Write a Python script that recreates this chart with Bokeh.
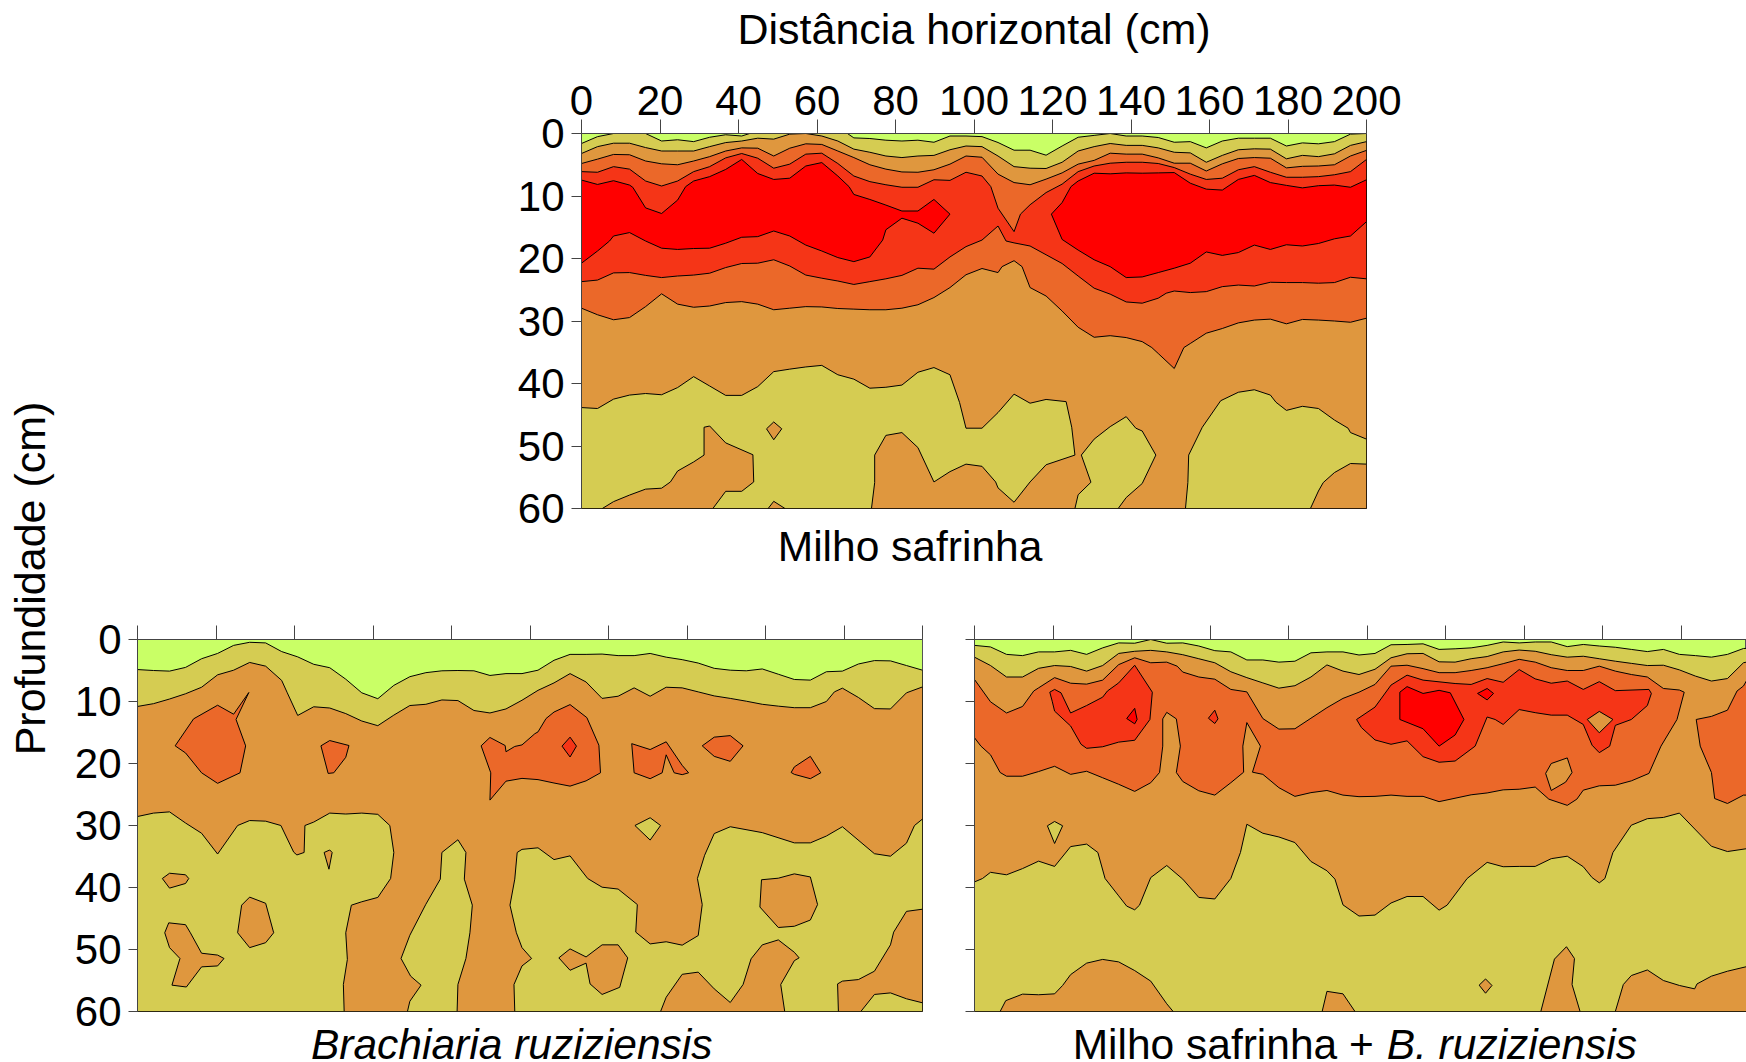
from bokeh.embed import file_html
from bokeh.resources import INLINE
from bokeh.plotting import figure
from bokeh.layouts import row, column
from bokeh.models import Range1d, FixedTicker, Label, Spacer

# Contours were digitised on the survey grid: 50 columns across 200 cm.
# Every point is (grid column, depth in cm); plain lists hold one depth per column.
COL_CM = 200 / 49
LIME, OLIVE, TAN, ORANGE, REDOR, RED = "#C9FF66", "#D5CC52", "#DF973E", "#EB6829", "#F53517", "#FF0000"
x_ticks = [0, 20, 40, 60, 80, 100, 120, 140, 160, 180, 200]
y_ticks = [0, 10, 20, 30, 40, 50, 60]

# ---------- Milho safrinha ----------
top_l1 = [1.6,.5,0,0,0,1.2,1.0,1.3,.6,.2,.4,0,0,0,0,0,0,.7,.8,1.07,1.2,1.07,1.4,.4,.4,.5,1.44,2.67,2.67,3.47,2.0,.6,.3,0,.4,.4,.64,1.4,1.3,2.3,1.2,.75,.75,.75,2,1.5,1.65,1.3,.1,0]
top_l1_x = [(10.5,0),(16.6,0)]
top_l2 = [3.2,2.1,1.55,1.55,2.25,2.8,2.8,2.8,2.1,1.45,1.2,.75,.9,.1,0,.4,1.2,2.5,3.0,3.6,3.85,3.6,3.5,2.6,2.0,2.1,3.6,5.3,5.55,5.6,4.6,2.8,2.1,1.6,1.9,1.9,2.3,3,3.1,4.6,3.5,2.6,2.45,2.5,4.05,3.5,3.7,3.25,1.9,1.3]
top_l3 = [4.8,4.1,3.35,3.4,4.4,4.85,5.0,4.4,3.7,2.8,2.3,2.35,3.6,2.35,1.65,1.75,2.8,3.85,5,5.7,6.15,6.2,5.8,4.9,3.6,3.8,6.5,7.85,8.2,7.3,6.3,4.9,4.3,3.15,3.3,3.3,3.9,4.75,4.75,6,4.85,4,3.85,3.95,5.5,5.25,5.2,5,3.6,2.7]
top_l4 = [6.1,6.2,5.3,5.7,7.6,8.4,7.6,6.1,5.3,3.9,3.2,3.95,5.55,4.9,3.3,3.15,4.8,6.8,7.7,8.2,8.6,8.6,7.4,7.5,6.2,6.8,11.95,15.7,11.4,9.45,8.1,6.1,5.2,4.75,4.6,4.6,4.8,5.45,6.5,7.35,7.15,5.8,5.3,6.2,7,7,6.9,6.6,6.1,4.15]
top_l4_x = [(25.55,8.5),(27.4,12.9)]
top_l6 = [23.7,23.45,22.3,22.25,22.7,23.05,22.8,22.65,22.35,21.45,20.8,20.75,20.2,21.2,22.65,23.15,23.6,24.15,23.7,23.25,22.7,21.55,21.7,19.75,18.1,17.05,14.8,17.5,18,19.4,20.8,22.8,24.75,25.7,26.95,27.15,26.35,25.2,25.45,25.3,24.5,24.25,24.4,23.8,23.85,23.85,23.95,23.85,23,23.25]
top_l6_x = [(26.5,17.2),(36.5,25.55)]
top_l7 = [27.95,29,29.8,29.45,27.7,25.65,27.3,27.8,27.6,27.05,26.9,27.3,28.2,27.95,27.7,27.75,28,28.1,28.2,28.2,27.95,27.4,26.25,24.65,22.6,21.6,22.25,20.35,24.65,26,28.4,31,32.6,32.35,32.65,33.3,35.2,37.6,33.6,31.95,31.2,30.3,29.85,29.7,30.45,29.75,29.85,30,30.2,29.55]
top_l7_x = [(26.25,21.3),(27.5,21.3),(35.6,34.25),(37.6,34.25)]
top_red1 = [(0,7.45),(1,8.15),(2,7.55),(3,8.25),(3.2,8.6),(4,11.9),(5,12.8),(6,10.65),(6.5,8.5),(7,7.6),(8,6.9),(9,5.75),(10,4.15),(11,6.4),(12,7.35),(13,7.15),(14,5.2),(15,4.65),(16,6.8),(16.7,8.5),(17,9.75),(18,10.55),(19,11.45),(20,12.4),(21,12.4),(22,10.55),(23,12.9),(22,15.95),(21,14.35),(20,13.55),(19,15.4),(18.8,17.05),(18,19.75),(17,20.5),(16,19.85),(15,18.8),(14,17.85),(13,16.4),(12,15.6),(11,16.5),(10,16.6),(9,17.55),(8,18.35),(7,18.4),(6,18.55),(5,18.35),(4,17.2),(3,15.85),(2,16.4),(1.75,17.2),(1,18.8),(0,20.75)]
top_red2 = [(29.33,12.9),(30,11.05),(30.55,8.5),(31,7.6),(32,6.35),(33,6.45),(34,6.3),(35,6.35),(36,6.3),(37,6.25),(38,7.95),(39,8.9),(40,9.05),(41,7.35),(42,6.7),(43,7.85),(44,8.3),(45,8.7),(46,8.35),(47,8.25),(48,8.6),(49,7.4),(49,14.1),(48,16.4),(47,16.85),(46,17.6),(45,18),(44,17.8),(43,18.55),(42,17.85),(41,19.05),(40,19.5),(39,18.95),(38,20.75),(37,21.55),(36,22.25),(35,22.95),(34,23.05),(33,21.3),(32,20.2),(31,18.65),(30,16.95)]
top_olive1 = [(0,43.85),(1,44),(2,42.5),(3,41.85),(4,41.6),(5,41.8),(6,40.65),(7,38.9),(8,40.4),(9,41.9),(10,41.9),(11,40.5),(12,38.1),(13,37.7),(14,37.35),(15,37.1),(16,38.6),(17,39.3),(18,40.75),(19,40.6),(20,40.25),(21,38.2),(22,37.45),(23,38.6),(23.6,43.05),(24,47.15),(25,47.15),(26,44.65),(27,41.7),(28,43.15),(29,42.55),(30.25,42.9),(30.6,47),(30.8,51.45),(29,53),(28,55.75),(27,59),(26,56.7),(25.85,55.75),(25,53.25),(24,52.9),(23,54.1),(22,55.75),(21,50.25),(20,47.85),(19,48.3),(18.3,51.45),(18.3,55.85),(18.1,60),(0,60)]
top_olive2 = [(31.2,51.45),(32,48.9),(33,46.9),(34,45.3),(34.6,47.15),(35,47.6),(35.85,51.45),(35,56),(34,58.25),(33.5,60),(30.8,60),(31,57.8),(31.8,55.8)]
top_olive3 = [(37.9,51.45),(38.75,47),(39.9,42.75),(41,41.4),(42,41),(43,41.85),(43.35,43),(44,44.3),(45,43.65),(46,44),(47,45.85),(47.85,47.15),(48,47.85),(49,48.9),(49,52.9),(48,52.8),(47,54.25),(46.3,55.85),(46,57.2),(45.5,60),(37.7,60),(37.85,55.85)]
top_tan_a = [(1.3,60),(2,58.9),(3,57.85),(4,56.9),(5,56.75),(5.55,55.75),(6,54),(7,52.55),(7.65,51.45),(7.65,47),(8,46.8),(9,49.5),(10.7,51.4),(10.75,55.75),(10,57.25),(9,57.25),(8.2,60)]
top_tan_b = [(12,46.15),(12.5,47.25),(12,49),(11.55,47.25)]
top_tan_c = [(11.65,60),(12,58.85),(12.7,60)]

# ---------- Brachiaria ruziziensis ----------
bl_l1 = [4.85,5,5.1,4.5,3.1,2.25,.95,.45,.55,1.95,2.8,4,4.55,6.4,8.6,9.55,7.4,6,5.35,5.05,5,5.05,5.8,5.5,5.5,4.95,3.35,2.4,2.4,2.35,2.6,2.6,2.25,2.85,3.25,3.8,4.65,4.95,5.05,4.75,5.6,6.45,6.55,5.2,5.1,3.95,3.4,3.45,4.2,4.95]
bl_l2 = [10.8,10.35,9.6,8.75,7.7,5.7,4.95,3.7,4.3,6.6,12.25,10.85,11.05,11.95,13.15,13.9,12.2,10.65,10.45,9.75,9.85,11.45,11.85,11.2,9.8,8.2,7,5.5,6.85,9.5,9.15,7.8,9.15,7.7,7.8,8.45,9.1,9.5,9.95,10.45,10.75,11,11,10,7.85,9.35,11.15,11.2,8.6,7.65]
bl_l2_x = [(9.35,8.6),(43.5,8.45)]
bl_olive1 = [(0,28.55),(1,28),(2,27.8),(3,29.6),(4,31.25),(5,34.6),(6.25,30),(7,29.2),(8,29.3),(8.95,30),(9.75,34.3),(9.95,34.75),(10.4,34.35),(10.45,30),(11,29.45),(12,28),(13,28.15),(14,28),(15,28.2),(15.75,30),(16,34.35),(15.8,38.55),(15,41.6),(14,42.3),(13.35,42.85),(13,47.3),(13.1,51.6),(12.85,55.65),(12.9,60),(0,60)]
bl_olive2 = [(19,34.35),(20,32.3),(20.5,34.35),(20.4,38.65),(20.9,42.85),(20.75,47.3),(20.5,51.45),(20,55.65),(19.95,60),(16.85,60),(17,58.35),(17.7,55.75),(17.05,54.3),(16.45,51.45),(17,47.7),(18,42.7),(18.9,38.65)]
bl_olive3 = [(23.7,34.35),(24,33.85),(25,33.6),(26,35.5),(27,34.9),(28.1,38.55),(29,39.95),(30,40.25),(31.2,42.75),(31.1,47.2),(32,49.1),(33,48.75),(34,49.3),(35,47.75),(35.25,42.75),(34.95,38.55),(35.4,34.8),(36,31.3),(37,30.2),(39,31.15),(41,32.8),(42,32.8),(43,31.7),(44,30.2),(46,34.55),(47,34.95),(48,32.85),(48.5,30),(49,28.95),(49,60),(23.55,60),(23.5,55.65),(24,52.65),(24.6,51.45),(24,49.7),(23.65,47.3),(23.25,42.85),(23.55,38.65)]
bl_tan = [
    [(1.55,38.55),(2,37.7),(3,37.95),(3.2,38.55),(3,39.35),(2,40.1)],
    [(6.5,42.85),(7,41.55),(8,42.55),(8.5,47.3),(8,48.9),(7,49.7),(6.25,47.3)],
    [(1.7,47.3),(1.95,45.7),(3,46),(3.3,47.3),(4,50.6),(5,50.9),(5.4,51.45),(5,52.65),(4,52.8),(3.05,56.05),(2.15,55.75),(2.65,51.45),(2,49.7)],
    [(11.65,34.35),(12,33.95),(12.15,34.35),(11.95,37.05)],
    [(26.3,51.35),(27,49.9),(28,51.2),(29,49.25),(30,49.25),(30.6,51.35),(30.1,56.1),(29,57.25),(28.25,55.55),(28,52.2),(27,53.35)],
    [(38.95,38.75),(40,38.5),(41,37.8),(42,38.3),(42.45,42.75),(42,45.25),(41,46.25),(40,46.45),(38.85,43.15)],
    [(49,43.5),(48,43.85),(47.2,47.2),(47,49.25),(46,53.5),(45,54.85),(44,55.1),(43.7,55.55),(43.75,60),(45.15,60),(46,57.25),(47,57),(48,57.95),(49,58.6)],
    [(32.65,60),(33,57.7),(34,54),(35,53.65),(36,56.35),(37,58.55),(37.8,55.65),(38.3,51.5),(39,49.25),(40,48.45),(41,50.45),(41.3,51.35),(41,51.8),(40.15,55.65),(40.4,60)],
]
bl_olive_small = [(31.05,30),(32,28.75),(32.65,30),(32,32.35)]
bl_orange = [
    [(2.35,17.15),(3.5,12.8),(5,10.6),(6,12.05),(6.95,8.55),(6.15,12.9),(6.75,17.15),(6.4,21.5),(5,23.2),(4,21.5),(3,18.3)],
    [(11.45,17.15),(12,16.3),(13.2,17.1),(13,19),(12.25,21.5),(11.9,21.6)],
    [(21.45,17.15),(22,15.8),(22.95,17.1),(23,18.1),(23.55,17.25),(24,17),(24.8,15.2),(25,14.9),(25.5,12.75),(26,11.7),(27,10.5),(28.05,12.6),(28.8,17.05),(28.9,21.5),(28,22.8),(27,23.65),(26,23.15),(25,22.6),(24,22.4),(23,22.85),(22,25.9),(22.05,21.5)],
    [(30.85,16.8),(32,17.75),(33,16.5),(34,20.3),(34.4,21.5),(34,21.8),(33.5,21.5),(33,18.6),(32.75,21.5),(32,22.45),(31,21.5)],
    [(35.25,17.15),(36,15.75),(37,15.5),(37.8,17.15),(37,19.65),(36,18.85)],
    [(40.8,21.45),(41,20.55),(42,18.85),(42.65,21.5),(42,22.45),(41,21.75)],
]
bl_redor = [(27,15.75),(27.4,17.2),(27,18.95),(26.5,17.2)]

# ---------- Milho safrinha + B. ruziziensis ----------
br_l1 = [.95,1.2,2.4,2.6,2,2,1.75,2.4,1.35,.55,.6,0,.6,.55,1.05,1.8,2,3.3,3.3,3.65,3.5,2.15,2,2,2.5,2.25,.85,.8,.7,1.6,1.5,1.35,.95,.4,.55,.4,.4,1.15,.8,1.05,1.25,1.6,1.95,1.6,2.4,2.6,2.85,2.4,1.45,1.35]
br_l2 = [2.85,4.2,6.05,6.05,4.65,4.2,4.35,5.1,4.2,2.25,1.9,1.75,2,2.45,3.1,3.75,5.2,6.15,7,7.85,7.45,6.05,4.1,5.1,5.65,4.8,2.95,2.3,2.25,3.6,3.65,3.1,2.75,2,1.7,1.9,2.45,2.85,2.7,3.1,3.5,3.85,4.2,4.15,4.9,5.9,6.7,6.3,3.75,3.2]
br_orange_main = [(0,6.45),(1,10.05),(2,11.85),(3,10.8),(3.7,8.3),(4,7.8),(5,6.15),(6,7.05),(7,7.2),(8,6.55),(9,4.05),(10,2.95),(11,3.75),(12,3.65),(12.65,4.3),(13,5.25),(14,6.05),(15,6.4),(16,8.05),(17,8.45),(18,12.75),(19,14.45),(20,14.4),(21,12.7),(22,11),(23,9.5),(24,8.5),(25,7.25),(26,4.3),(27,4.15),(28,4.7),(29,5.35),(30,5.35),(31,5),(32,4.55),(33,3.9),(34,3.2),(35,3.65),(36,4.55),(37,5),(38,5),(39,4.3),(40,5.1),(41,5.65),(42,6.05),(43,7.9),(44,8.15),(44.3,8.5),(43.85,12.9),(42.85,17.2),(42.1,21.6),(41,22.8),(40,23.5),(39,23.6),(38,24.3),(37.6,25.75),(37,26.75),(35.85,25.75),(35,23.8),(34,24.15),(33,24.25),(32,24.75),(31,25.05),(29,26.15),(28,25.3),(27,25.3),(26,25.1),(25,25.3),(24,25.35),(23,25.1),(22,24.35),(21,24.7),(20,25.3),(19,23.9),(18,21.75),(17.35,21.4),(17.85,17.2),(17,13.4),(16.75,17.2),(16.8,21.4),(16,23.1),(15,25.1),(14,24.4),(13,22.9),(12.6,21.45),(12.85,17.2),(12.6,12.8),(12,11.75),(11.75,12.8),(11.75,17.2),(11.55,21.45),(11,23.1),(10,24.5),(9,23.35),(8,22.3),(7,21.25),(6,21.75),(5,20.45),(4,21.3),(3,22.05),(2,22.05),(1.6,21.45),(1,18.6),(.4,17.2),(0,15.85)]
br_orange_right = [(45.05,12.9),(46,12.4),(47,11.4),(47.6,8.3),(48,7.5),(48.3,6.15),(49,3.5),(49,25.1),(48,25.1),(47,26.45),(46.2,25.65),(46,21.45),(45.3,17.2)]
br_l4 = [(0,39.1),(.5,38.55),(1,37.55),(2,37.95),(3,36.95),(4,35.75),(5,36.6),(6,33.4),(7,33),(7.7,34.35),(8.15,38.55),(9,41.35),(9.5,43),(10,43.6),(10.3,42.85),(11,38.4),(12,36.45),(13,38.65),(14,41.6),(15,41.85),(16,38.55),(16.6,34.35),(17,29.8),(18,31.25),(19,31.85),(20,32.75),(21,35.8),(22,37.3),(22.5,38.65),(23,42.8),(24,44.6),(25,44.45),(26,42.5),(27,41.45),(28,41.45),(29,43.65),(29.5,42.85),(30.75,38.55),(32,35.95),(33,36.65),(34,36.6),(35,36.6),(36,35.35),(37,34.95),(38,36.65),(38.55,38.4),(39,39.25),(39.35,38.55),(39.85,34.35),(41,29.95),(42,28.9),(43,28.7),(44,28),(46,33.35),(47,34.2),(48.3,33.7),(49,33.55),(49,60),(0,60)]
br_tan = [
    [(1.6,60),(1.95,58.25),(3,57.2),(4,57.3),(5,57.15),(5.5,55.8),(6,54.05),(7,52.2),(8,51.6),(9,52),(10,53.4),(11,55.1),(12,58.75),(12.4,60)],
    [(21.7,60),(22,56.75),(23,57.15),(23.75,60)],
    [(31.9,54.75),(32.3,55.8),(31.9,57.05),(31.5,55.75)],
    [(35.35,60),(36.2,51.55),(36.95,49.55),(37.45,51.45),(37.3,55.65),(37.8,60)],
    [(40,60),(40.5,55.65),(41,54.2),(42,53.3),(43,55),(44,55.8),(44.95,56.35),(45.1,55.55),(46,54.3),(47,53.5),(48.3,52.7),(49,52.35),(49,60)],
]
br_olive_small = [(4.55,30.05),(5,29.35),(5.5,30.05),(5,32.9)]
br_redor = [
    [(4.7,8.5),(5,8.05),(5.4,8.6),(6,11.85),(7,10.65),(8,9.3),(8.3,8.3),(9,7),(10,4.15),(11.1,8.5),(10.95,12.9),(10,16.25),(9,16.55),(8,17.3),(7,17.55),(6.65,16.9),(6,13.95),(5,11.55),(4.85,9.95)],
    [(15,11.4),(15.2,12.8),(15,13.55),(14.6,12.7)],
    [(23.85,12.9),(25,10.9),(26,7.35),(27,5.75),(28,6.55),(30,7.1),(31,7.25),(32,6.3),(33,6.9),(34,4.85),(35,6.35),(36,7.05),(37,6.7),(38,8.05),(39,6.8),(40,8.25),(42.1,8.05),(42.25,8.7),(42,10.65),(41,12.9),(40,13.85),(39.65,17.2),(39,18.25),(38.55,17.05),(38,13.7),(37,12.2),(36,12.2),(35,11.8),(34,11.3),(33,13.7),(32.5,12.9),(32,12.5),(31.25,17.2),(30,19.6),(29,19.8),(28,18.9),(27,16.35),(26,16.9),(25,16.2),(24.15,14.2)],
]
br_red = [
    [(10,11.1),(10.15,12.9),(10,13.6),(9.5,12.75)],
    [(31.4,8.7),(32,7.9),(32.4,8.7),(32,9.75)],
    [(26.55,8.5),(27,7.6),(28,8.7),(29,8.2),(29.7,8.6),(30.55,12.9),(30,15.4),(29,17.2),(28,14.4),(26.55,12.9)],
]
br_tan_in_core = [
    [(38.25,12.9),(39,11.6),(39.85,12.9),(39,15.05)],
    [(35.65,21.6),(36,20),(37,19.1),(37.3,21.45),(36.9,23),(36,24.35)],
]

FONT = "Liberation Sans"
TICK_SIZE = "42px"
TEXT_SIZE = "43px"
CAPTION_SIZE = "42.5px"


def line(depths, extra=()):
    return sorted(list(enumerate(depths)) + list(extra))


def below(points):
    return points + [(49, 60), (0, 60)]


def band(upper, lower):
    return upper + lower[::-1]


def draw(p, layers):
    for pts, color in layers:
        p.patch([c * COL_CM for c, _ in pts], [d for _, d in pts], fill_color=color,
                line_color="black", line_width=1)


def panel(width, height, left, right, top, bottom, x_end, x_len, y_len, labels_x, labels_y):
    p = figure(width=width, height=height, x_range=Range1d(0, x_end), y_range=Range1d(60, 0),
               x_axis_location="above", toolbar_location=None, output_backend="svg",
               min_border_left=left, min_border_right=right, min_border_top=top, min_border_bottom=bottom)
    p.grid.visible = False
    p.outline_line_color = "#555555"
    p.background_fill_color = LIME
    p.border_fill_color = None
    p.xaxis.ticker = FixedTicker(ticks=x_ticks)
    p.yaxis.ticker = FixedTicker(ticks=y_ticks)
    p.xaxis.major_tick_out = x_len
    p.yaxis.major_tick_out = y_len
    for ax in (p.xaxis, p.yaxis):
        ax.major_tick_in = 0
        ax.minor_tick_line_color = None
        ax.axis_line_color = "#444444"
        ax.major_tick_line_color = "#444444"
        ax.major_label_text_font = FONT
        ax.major_label_text_color = "black"
    p.xaxis.major_label_text_font_size = TICK_SIZE if labels_x else "4px"
    p.yaxis.major_label_text_font_size = TICK_SIZE if labels_y else "4px"
    p.xaxis.major_label_standoff = 5 if labels_x else 0
    p.yaxis.major_label_standoff = 7 if labels_y else 0
    if not labels_x:
        p.xaxis.major_label_overrides = {t: "" for t in x_ticks}
    if not labels_y:
        p.yaxis.major_label_overrides = {t: "" for t in y_ticks}
    return p


def caption(p, text, x, y, style="normal", side="below"):
    # x in cm and y in cm of depth, on the panel's own scales; held in a side
    # panel so that the frame does not clip it
    p.add_layout(Label(x=x, y=y, text=text, text_font=FONT, text_font_size=CAPTION_SIZE, text_font_style=style,
                       text_align="left", text_baseline="middle", text_color="black"), side)


# top panel
top = panel(930, 568, 100, 45, 133, 60, 200, 14, 10, True, True)
top.xaxis.axis_label = "Distância horizontal (cm)"
top.xaxis.axis_label_text_font = FONT
top.xaxis.axis_label_text_font_size = TEXT_SIZE
top.xaxis.axis_label_text_font_style = "normal"
top.xaxis.axis_label_text_color = "black"
top.xaxis.axis_label_standoff = 30
draw(top, [
    (below(line(top_l1, top_l1_x)), OLIVE),
    (below(line(top_l2)), TAN),
    (below(line(top_l3)), ORANGE),
    (below(line(top_l7, top_l7_x)), TAN),
    (band(line(top_l4, top_l4_x), line(top_l6, top_l6_x)), REDOR),
    (top_red1, RED), (top_red2, RED),
    (top_olive1, OLIVE), (top_olive2, OLIVE), (top_olive3, OLIVE),
    (top_tan_a, TAN), (top_tan_b, TAN), (top_tan_c, TAN),
])
caption(top, "Milho safrinha", 50.0, 66.0)

# bottom-left panel
bl = panel(894, 494, 79, 30, 71, 51, 200, 14, 9, False, True)
draw(bl, [
    (below(line(bl_l1)), OLIVE),
    (below(line(bl_l2, bl_l2_x)), TAN),
    (bl_olive1, OLIVE), (bl_olive2, OLIVE), (bl_olive3, OLIVE),
] + [(t, TAN) for t in bl_tan] + [(bl_olive_small, OLIVE)]
     + [(o, ORANGE) for o in bl_orange] + [(bl_redor, REDOR)])
caption(bl, "Brachiaria ruziziensis", 44.2, 65.4, "italic")

# bottom-right panel, running off the page edge as in the source
br = panel(794, 494, 22, 0, 71, 51, 772 / 3.925, 14, 9, False, False)
draw(br, [
    (below(line(br_l1)), OLIVE),
    (below(line(br_l2)), TAN),
    (br_orange_main, ORANGE), (br_orange_right, ORANGE),
    (br_l4, OLIVE),
] + [(t, TAN) for t in br_tan] + [(br_olive_small, OLIVE)]
     + [(r, REDOR) for r in br_redor] + [(r, RED) for r in br_red]
     + [(t, TAN) for t in br_tan_in_core])
caption(br, "Milho safrinha + ", 25.0, 65.3)
caption(br, "B. ruziziensis", 105.0, 65.3, "italic", side="above")

# shared vertical title
ylab = figure(width=58, height=1062, x_range=Range1d(0, 58), y_range=Range1d(0, 1062),
              toolbar_location=None, output_backend="svg",
              min_border_left=0, min_border_right=0, min_border_top=0, min_border_bottom=0)
ylab.axis.visible = False
ylab.grid.visible = False
ylab.outline_line_color = None
ylab.add_layout(Label(x=29, y=484, text="Profundidade (cm)", angle=90, angle_units="deg", text_font=FONT,
                      text_font_size=TEXT_SIZE, text_align="center", text_baseline="middle", text_color="black"))

page = row(ylab,
           column(row(Spacer(width=423, height=568), top),
                  row(bl, br), spacing=0),
           spacing=0)
open("out.html", "w").write(file_html(page, INLINE))
